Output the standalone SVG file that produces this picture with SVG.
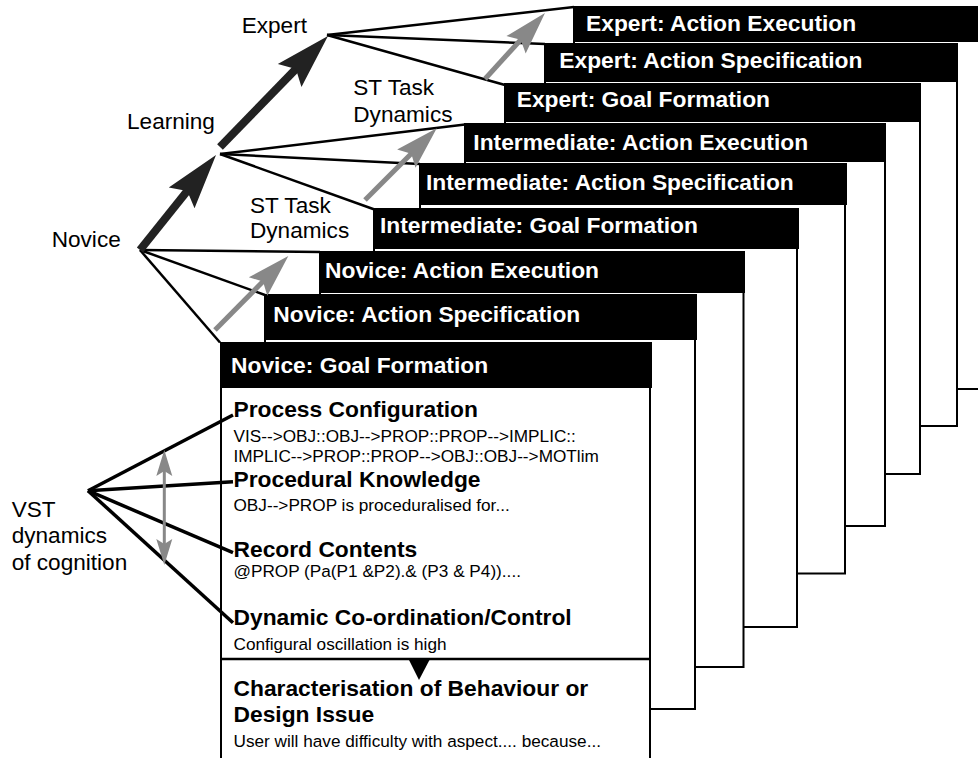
<svg xmlns="http://www.w3.org/2000/svg" width="978" height="758" viewBox="0 0 978 758">
<defs>
<style>
.body{fill:#fff;stroke:#000;stroke-width:2}
.hdr{fill:#000}
.ht{font-family:"Liberation Sans",Arial,sans-serif;font-weight:bold;font-size:22.8px;fill:#fff}
.lbl{font-family:"Liberation Sans",Arial,sans-serif;font-size:22.6px;fill:#000}
.st{font-family:"Liberation Sans",Arial,sans-serif;font-weight:bold;font-size:22.8px;fill:#000}
.tx{font-family:"Liberation Sans",Arial,sans-serif;font-size:17.2px;fill:#000}
.ln{stroke:#000;stroke-width:2.5;fill:none}
.vln{stroke:#000;stroke-width:3.5;fill:none}
.thick{stroke:#222;stroke-width:8;fill:none;marker-end:url(#hb)}
.gray{stroke:#888;stroke-width:5;fill:none;marker-end:url(#hg)}
.dbl{stroke:#888;stroke-width:3;fill:none;marker-start:url(#hs);marker-end:url(#hs)}
</style>
<marker id="hb" markerUnits="userSpaceOnUse" orient="auto" markerWidth="70" markerHeight="40" viewBox="-20 -20 70 40" refX="0" refY="0"><path d="M41,0 L-14,-16.5 L-5,0 L-14,16.5 Z" fill="#222"/></marker>
<marker id="hg" markerUnits="userSpaceOnUse" orient="auto" markerWidth="55" markerHeight="30" viewBox="-15 -15 55 30" refX="0" refY="0"><path d="M34,0 L-9,-13 L-2,0 L-9,13 Z" fill="#888"/></marker>
<marker id="hs" markerUnits="userSpaceOnUse" orient="auto-start-reverse" markerWidth="35" markerHeight="20" viewBox="-10 -10 35 20" refX="0" refY="0"><path d="M19,0 L-7,-8 L-2,0 L-7,8 Z" fill="#888"/></marker>
</defs>
<rect x="0" y="0" width="978" height="758" fill="#fff"/>

<g id="card-expert-action-execution">
<rect class="body" x="574" y="7" width="414" height="382"/>
<rect class="hdr" x="573" y="6" width="420" height="36"/>
<text class="ht" x="586" y="31">Expert: Action Execution</text>
</g>
<g id="card-expert-action-specification">
<rect class="body" x="545" y="44" width="412" height="382"/>
<rect class="hdr" x="544" y="43" width="414" height="39"/>
<text class="ht" x="559.3" y="67.7">Expert: Action Specification</text>
</g>
<g id="card-expert-goal-formation">
<rect class="body" x="505" y="84" width="415" height="390"/>
<rect class="hdr" x="504" y="83" width="417" height="39"/>
<text class="ht" x="516.7" y="107.3">Expert: Goal Formation</text>
</g>
<g id="card-intermediate-action-execution">
<rect class="body" x="465" y="124" width="420" height="402"/>
<rect class="hdr" x="464" y="123" width="422" height="39"/>
<text class="ht" x="473.3" y="150">Intermediate: Action Execution</text>
</g>
<g id="card-intermediate-action-specification">
<rect class="body" x="420" y="164" width="425" height="409.5"/>
<rect class="hdr" x="419" y="163" width="428" height="42"/>
<text class="ht" x="426" y="190">Intermediate: Action Specification</text>
</g>
<g id="card-intermediate-goal-formation">
<rect class="body" x="374" y="209" width="423" height="418"/>
<rect class="hdr" x="373" y="208" width="426" height="41"/>
<text class="ht" x="380" y="233.3">Intermediate: Goal Formation</text>
</g>
<g id="card-novice-action-execution">
<rect class="body" x="320" y="252" width="423.5" height="415"/>
<rect class="hdr" x="319" y="251" width="426" height="42"/>
<text class="ht" x="325" y="278.3">Novice: Action Execution</text>
</g>
<g id="card-novice-action-specification">
<rect class="body" x="265" y="295" width="430" height="414"/>
<rect class="hdr" x="264" y="294" width="433" height="46"/>
<text class="ht" x="273.3" y="321.7">Novice: Action Specification</text>
</g>
<g id="card-novice-goal-formation">
<rect class="body" x="221" y="343" width="429" height="430"/>
<rect class="hdr" x="220" y="342" width="432" height="46"/>
<text class="ht" x="231" y="372.7">Novice: Goal Formation</text>
<text class="st" x="233.5" y="417">Process Configuration</text>
<text class="tx" x="233.5" y="442">VIS--&gt;OBJ::OBJ--&gt;PROP::PROP--&gt;IMPLIC::</text>
<text class="tx" x="233.5" y="461.5">IMPLIC--&gt;PROP::PROP--&gt;OBJ::OBJ--&gt;MOTlim</text>
<text class="st" x="233.5" y="486.5">Procedural Knowledge</text>
<text class="tx" x="233.5" y="510.5">OBJ--&gt;PROP is proceduralised for...</text>
<text class="st" x="233.5" y="556.5">Record Contents</text>
<text class="tx" x="233.5" y="576.5">@PROP (Pa(P1 &amp;P2).&amp; (P3 &amp; P4))....</text>
<text class="st" x="233.5" y="625">Dynamic Co-ordination/Control</text>
<text class="tx" x="233.5" y="650">Configural oscillation is high</text>
<line x1="221" y1="659" x2="650" y2="659" stroke="#000" stroke-width="2.5"/>
<polygon points="408.5,659 430,659 419,680" fill="#000"/>
<text class="st" x="233.5" y="696">Characterisation of Behaviour or</text>
<text class="st" x="233.5" y="721.5">Design Issue</text>
<text class="tx" x="233.5" y="746.5">User will have difficulty with aspect.... because...</text>
</g>

<g id="label-expert"><text class="lbl" x="241.7" y="33.3">Expert</text></g>
<g id="label-learning"><text class="lbl" x="127" y="129.3">Learning</text></g>
<g id="label-novice"><text class="lbl" x="51.7" y="246.7">Novice</text></g>
<g id="label-st-task-2"><text class="lbl" x="353.3" y="95">ST Task</text><text class="lbl" x="353.3" y="121.7">Dynamics</text></g>
<g id="label-st-task-1"><text class="lbl" x="250" y="212.7">ST Task</text><text class="lbl" x="250" y="238.3">Dynamics</text></g>
<g id="label-vst"><text class="lbl" x="11.7" y="516.7">VST</text><text class="lbl" x="11.7" y="543.3">dynamics</text><text class="lbl" x="11.7" y="570">of cognition</text></g>

<g id="connectors">
<line class="ln" x1="140" y1="250" x2="320" y2="252"/>
<line class="ln" x1="140" y1="250" x2="265" y2="295"/>
<line class="ln" x1="140" y1="250" x2="220" y2="342.5"/>
<line class="ln" x1="220" y1="154" x2="465" y2="124.5"/>
<line class="ln" x1="220" y1="154" x2="420" y2="164"/>
<line class="ln" x1="220" y1="154" x2="374.5" y2="209.5"/>
<line class="ln" x1="327" y1="35" x2="574" y2="7"/>
<line class="ln" x1="327" y1="35" x2="545" y2="44"/>
<line class="ln" x1="327" y1="35" x2="505" y2="85"/>
<line class="thick" x1="140" y1="250" x2="190.4" y2="187"/>
<line class="thick" x1="220" y1="147" x2="299.4" y2="65.4"/>
<line class="gray" x1="215" y1="330" x2="264.4" y2="280.1"/>
<line class="gray" x1="365" y1="200" x2="412.7" y2="152.3"/>
<line class="gray" x1="485" y1="79" x2="522.1" y2="38.2"/>
<line class="vln" x1="88" y1="490.7" x2="233" y2="415"/>
<line class="vln" x1="88" y1="490.7" x2="233" y2="481.7"/>
<line class="vln" x1="88" y1="490.7" x2="233" y2="552.7"/>
<line class="vln" x1="88" y1="490.7" x2="233" y2="622.7"/>
<line class="dbl" x1="164.3" y1="469" x2="164.3" y2="546"/>
</g>
</svg>
